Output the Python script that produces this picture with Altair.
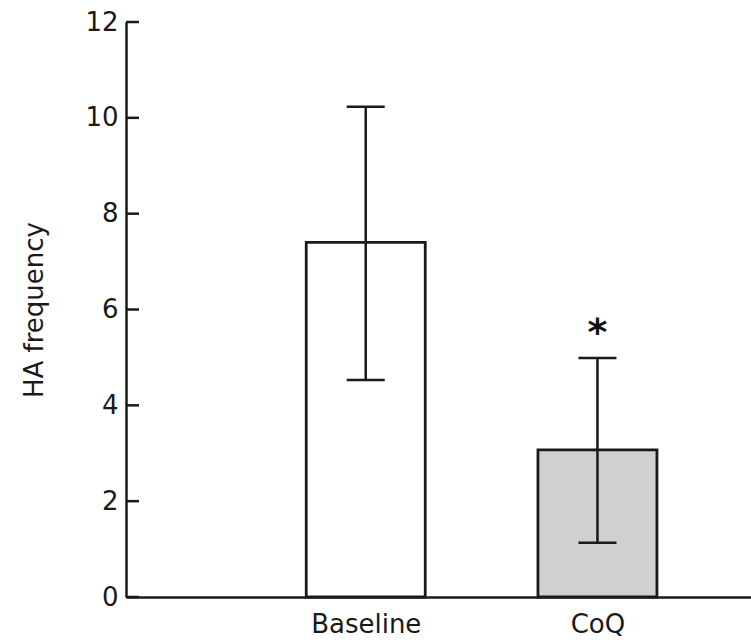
import altair as alt
import pandas as pd

groups = ["Baseline", "CoQ"]
means = [7.4, 3.07]
err_low = [4.53, 1.13]
err_high = [10.23, 4.99]
sig_marks = ["", "*"]
sig_y = [5.64, 5.64]
fills = ["#ffffff", "#d0d0d0"]
y_ticks = [0, 2, 4, 6, 8, 10, 12]

df = pd.DataFrame({
    "group": groups,
    "pos": list(range(1, len(groups) + 1)),
    "mean": means,
    "lo": err_low,
    "hi": err_high,
    "sig": sig_marks,
    "sig_y": sig_y,
    "fill": fills,
})
ticks_df = pd.DataFrame({"t": y_ticks})

FONT = "DejaVu Sans"
INK = "#1a1a1a"

label_expr = " : ".join(
    [f"datum.value == {i + 1} ? '{g}'" for i, g in enumerate(groups)] + ["''"]
)

x_enc = alt.X(
    "pos:Q",
    scale=alt.Scale(domain=[-0.013, 2.641], nice=False, zero=False),
    axis=alt.Axis(
        values=list(range(1, len(groups) + 1)),
        labelExpr=label_expr,
        ticks=False,
        grid=False,
        title=None,
        domainColor=INK,
        domainWidth=2.5,
        labelFont=FONT,
        labelFontSize=26,
        labelColor=INK,
        labelPadding=14,
    ),
)
y_scale = alt.Scale(domain=[0, 12], nice=False)
y_enc = alt.Y(
    "mean:Q",
    scale=y_scale,
    axis=alt.Axis(
        values=y_ticks,
        ticks=False,
        grid=False,
        title="HA frequency",
        titleFont=FONT,
        titleFontSize=26,
        titleFontWeight="normal",
        titleColor=INK,
        titleX=-92,
        titleY=287.5,
        titleAngle=-90,
        titleAlign="center",
        titleBaseline="middle",
        domainColor=INK,
        domainWidth=2.5,
        labelFont=FONT,
        labelFontSize=26,
        labelColor=INK,
        labelPadding=8,
    ),
)

base = alt.Chart(df)

bars = base.mark_bar(size=119, stroke=INK, strokeWidth=2.8).encode(
    x=x_enc,
    y=y_enc,
    fill=alt.Fill("fill:N", scale=None),
)

err_line = base.mark_rule(color=INK, strokeWidth=2.5).encode(
    x="pos:Q",
    y=alt.Y("lo:Q", scale=y_scale),
    y2="hi:Q",
)
cap_hi = base.mark_tick(orient="horizontal", size=38, thickness=2.5, color=INK, opacity=1).encode(
    x="pos:Q", y=alt.Y("hi:Q", scale=y_scale)
)
cap_lo = base.mark_tick(orient="horizontal", size=38, thickness=2.5, color=INK, opacity=1).encode(
    x="pos:Q", y=alt.Y("lo:Q", scale=y_scale)
)

stars = base.mark_text(
    font=FONT, fontSize=38, fontWeight="bold", color="#111111", baseline="middle", dy=7
).encode(
    x="pos:Q",
    y=alt.Y("sig_y:Q", scale=y_scale),
    text="sig:N",
)

tick_marks = alt.Chart(ticks_df).mark_rule(color=INK, strokeWidth=2.5).encode(
    y=alt.Y("t:Q", scale=y_scale),
    x=alt.value(0),
    x2=alt.value(13),
)

chart = alt.layer(bars, err_line, cap_hi, cap_lo, stars, tick_marks).properties(
    width=625,
    height=575,
    background="white",
    autosize=alt.AutoSizeParams(type="none"),
    padding={"left": 126, "top": 22, "right": 0, "bottom": 46},
).configure_view(stroke="transparent", strokeWidth=0)

chart.save("out.html", embed_options={"renderer": "svg", "actions": False})
